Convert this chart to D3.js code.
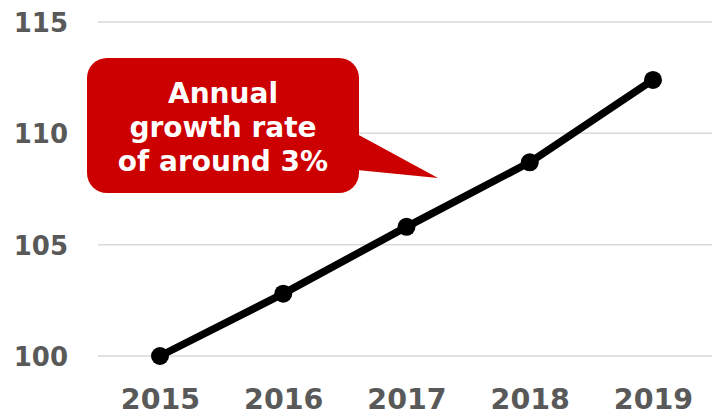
<!DOCTYPE html>
<html>
<head>
<meta charset="utf-8">
<script src="https://cdn.jsdelivr.net/npm/d3@7/dist/d3.min.js"></script>
<style>
  html, body { margin: 0; padding: 0; background: #fff; }
  svg { display: block; }
</style>
</head>
<body>
<svg id="chart" width="712" height="417"></svg>
<script>
// Index values per year (2015 = 100)
const years = ["2015", "2016", "2017", "2018", "2019"];
const indexValues = [100, 102.8, 105.8, 108.7, 112.4];
const yTicks = [100, 105, 110, 115];
const calloutLines = ["Annual", "growth rate", "of around 3%"];

const svg = d3.select("#chart");
const W = 712, H = 417;

const x = d3.scalePoint().domain(years).range([160, 653]);
const y = d3.scaleLinear().domain([100, 115]).range([356, 22]);

const labelFont = "'DejaVu Sans', Verdana, sans-serif";

// Horizontal gridlines
svg.append("g")
  .selectAll("line")
  .data(yTicks)
  .join("line")
  .attr("x1", 98).attr("x2", W)
  .attr("y1", d => y(d)).attr("y2", d => y(d))
  .attr("stroke", "#d9d9d9")
  .attr("stroke-width", 1.5);

// Y axis labels
const yAxis = d3.axisLeft(y).tickValues(yTicks).tickSize(0).tickPadding(0);
const yg = svg.append("g").attr("transform", "translate(68,0)").call(yAxis);
yg.select(".domain").remove();
yg.selectAll("text")
  .attr("fill", "#595959")
  .style("font-family", labelFont)
  .style("font-weight", "bold")
  .style("font-size", "26px")
  .attr("dy", "0.36em");

// X axis labels (baseline near the bottom edge)
const xAxis = d3.axisBottom(x).tickSize(0).tickPadding(0);
const xg = svg.append("g").attr("transform", "translate(0,409)").call(xAxis);
xg.select(".domain").remove();
xg.selectAll("text")
  .attr("fill", "#595959")
  .style("font-family", labelFont)
  .style("font-weight", "bold")
  .style("font-size", "28.5px")
  .attr("y", 0)
  .attr("dy", "0");

// Series line and markers
const pts = years.map((yr, i) => [x(yr), y(indexValues[i])]);
svg.append("path")
  .attr("d", d3.line()(pts))
  .attr("fill", "none")
  .attr("stroke", "#000")
  .attr("stroke-width", 7.5)
  .attr("stroke-linejoin", "round");
svg.append("g")
  .selectAll("circle")
  .data(pts)
  .join("circle")
  .attr("cx", d => d[0]).attr("cy", d => d[1])
  .attr("r", 9)
  .attr("fill", "#000");

// Callout box with pointer
const bx = 87, by = 58, bw = 272, bh = 135, r = 20;
const callout = svg.append("g");
callout.append("path")
  .attr("d", d3.line()([[bx + bw - 2, 134], [438, 178], [bx + bw - 2, 170]]))
  .attr("fill", "#cc0000");
callout.append("rect")
  .attr("x", bx).attr("y", by).attr("width", bw).attr("height", bh)
  .attr("rx", r).attr("ry", r)
  .attr("fill", "#cc0000");
callout.append("text")
  .attr("text-anchor", "middle")
  .attr("fill", "#fff")
  .style("font-family", labelFont)
  .style("font-weight", "bold")
  .style("font-size", "28px")
  .selectAll("tspan")
  .data(calloutLines)
  .join("tspan")
  .attr("x", bx + bw / 2)
  .attr("y", (d, i) => 103 + i * 34)
  .text(d => d);
</script>
</body>
</html>
